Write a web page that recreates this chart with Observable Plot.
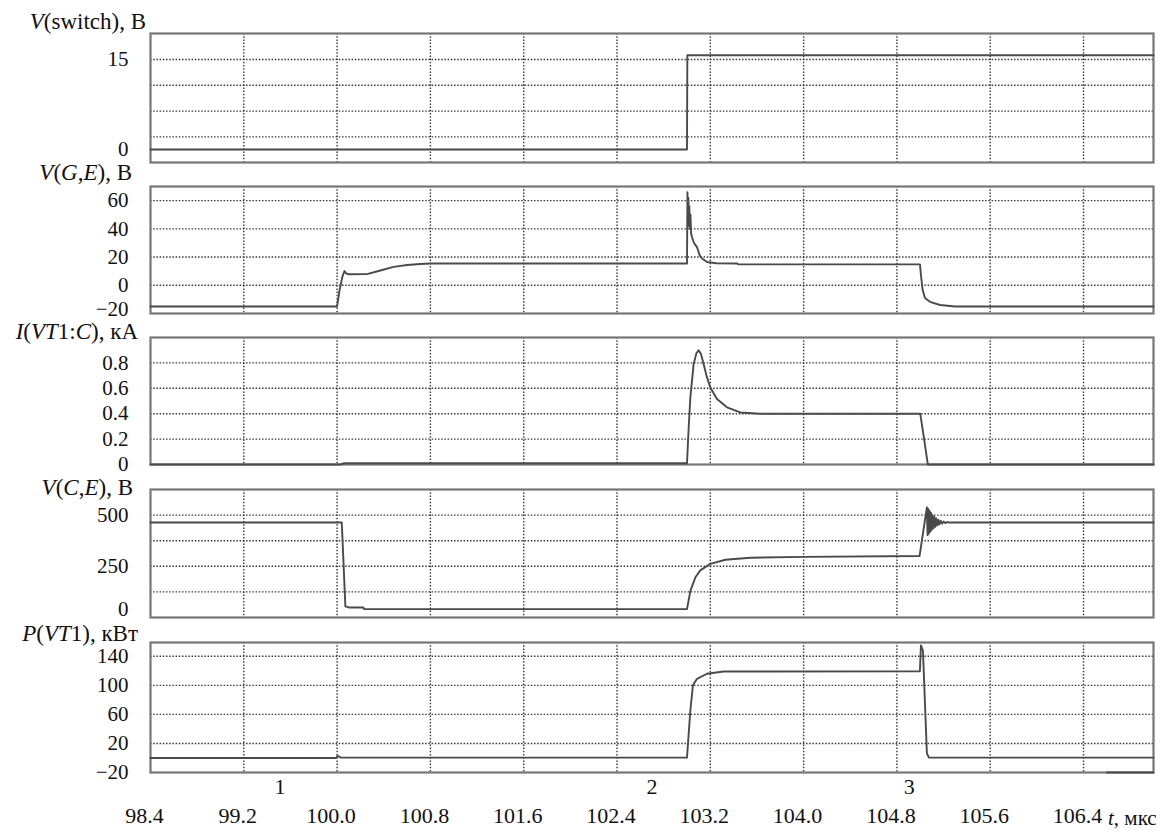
<!DOCTYPE html>
<html><head><meta charset="utf-8">
<script src="https://cdn.jsdelivr.net/npm/d3@7"></script>
<script src="https://cdn.jsdelivr.net/npm/@observablehq/plot@0.6"></script>
<style>
body{margin:0;background:#fff;}
#wrap{position:relative;width:1167px;height:831px;font-family:"Liberation Serif","Times New Roman",serif;overflow:hidden;}
#wrap svg{overflow:visible;display:block;}
#wrap svg text{font-family:"Liberation Serif","Times New Roman",serif;}
.ttl{position:absolute;font-size:23px;line-height:0.8;white-space:nowrap;color:#111;transform:translateY(-50%);font-family:"Liberation Serif",serif;}
</style></head><body><div id="wrap"></div>
<script>
// ---- x axis (t, µs)
const xTicks = [98.4, 99.2, 100.0, 100.8, 101.6, 102.4, 103.2, 104.0, 104.8, 105.6, 106.4];
const xGrid = [99.2, 100.0, 100.8, 101.6, 102.4, 103.2, 104.0, 104.8, 105.6, 106.4];
const xDomain = [98.4, 107.0];

// ---- panel titles
const titles = [
  "<i>V</i>(switch), В",
  "<i>V</i>(<i>G</i>,<i>E</i>), В",
  "<i>I</i>(<i>VT</i>1:<i>C</i>), кА",
  "<i>V</i>(<i>C</i>,<i>E</i>), В",
  "<i>P</i>(<i>VT</i>1), кВт"
];
const xLabel = "<i>t</i>, мкс";

// ---- point markers under the time axis
const markerLabels = ["1", "2", "3"];
const markerTimes = [99.51, 102.70, 104.905];

// ---- y ticks / grid per panel
const ticksSwitch = [0, 15];
const gridSwitch = [15, 10.7, 6.4, 2.1];
const ticksGE = [0, 20, 40, 60];
const ticksGEBottom = [-20];
const gridGE = [0, 20, 40, 60];
const ticksIC = [0, 0.2, 0.4, 0.6, 0.8];
const gridIC = [0.2, 0.4, 0.6, 0.8];
const ticksCE = [250, 500];
const ticksCEBottom = [0];
const gridCE = [125, 250, 375, 500];
const ticksP = [-20, 20, 60, 100, 140];
const gridP = [20, 60, 100, 140];

// ---- series [t (µs), value]
const vSwitch = [[98.4,0],[103.0,0],[103.003,15.7],[107.0,15.7]];

const vGE = [[98.4,-15],[100.0,-15],[100.02,-4],[100.045,6],[100.063,10.1],[100.08,8.3],[100.1,7.8],
  [100.257,7.9],[100.371,10.5],[100.485,13.0],[100.6,14.4],[100.714,15.1],[100.8,15.4],[103.0,15.4],
  [103.004,66],[103.008,45],[103.012,62],[103.016,42],[103.02,56],[103.025,40],[103.03,50],[103.035,37],
  [103.043,34],[103.06,30],[103.086,27],[103.11,21],[103.129,19],[103.172,16.5],[103.25,15.6],[103.43,15.4],
  [103.44,14.8],[104.998,14.8],[105.005,8],[105.02,-3],[105.04,-9],[105.09,-12],[105.17,-14],[105.3,-15],[107.0,-15]];

const iC = [[98.4,0],[100.03,0],[100.06,0.01],[103.0,0.01],[103.015,0.3],[103.029,0.53],[103.057,0.79],
  [103.08,0.875],[103.1,0.90],[103.12,0.87],[103.143,0.79],[103.17,0.69],[103.2,0.606],[103.257,0.515],[103.343,0.45],[103.457,0.41],[103.629,0.4],
  [105.0,0.4],[105.03,0.22],[105.065,0.0],[107.0,0]];

const vCE = [[98.4,464],[100.04,464],[100.071,54],[100.1,49],[100.226,49],[100.23,41],[103.0,41],
  [103.029,130],[103.071,195],[103.114,230],[103.2,262],[103.329,282],[103.543,292],[104.0,296],[104.994,300],
  [105.057,538],[105.063,402],[105.069,530],[105.075,410],[105.081,520],[105.087,420],[105.093,510],
  [105.099,428],[105.106,500],[105.113,436],[105.12,492],[105.128,443],[105.136,485],[105.145,449],
  [105.154,478],[105.164,454],[105.175,473],[105.187,458],[105.2,469],[105.215,461],[105.23,466],
  [105.25,464],[107.0,464]];

const pVT = [[98.4,0],[99.99,0],[100.005,3],[100.03,0.5],[103.0,0.5],[103.029,65.7],[103.051,100],
  [103.086,109],[103.171,116],[103.314,119],[104.997,119.5],[105.006,155],[105.023,148],[105.057,6.4],
  [105.075,0.5],[107.0,0.5]];
const pExtra = [[106.6,-20],[107.0,-20]];

// ---- helpers
const FONT = '"Liberation Serif","Times New Roman",serif';
const fmtY = d => d < 0 ? "\u2212" + Math.abs(d) : String(d);
const gridStyle = {stroke: "#222", strokeDasharray: "1.5,1.7", strokeWidth: 1.4, strokeOpacity: 0.9};
const lineStyle = {x: d => d[0], y: d => d[1], stroke: "#4a4a4a", strokeWidth: 1.9, curve: "linear"};
const axisStyle = {tickSize: 0, tickPadding: 22, fontSize: 21, fontFamily: FONT, fill: "#111", tickFormat: fmtY};

function panel({series, yDomain, yTicks, yTicksBottom = [], bottomDy = 0, yGrid, height, marginTop, marginBottom = 0, extra = []}) {
  return Plot.plot({
    width: 1167, height, marginLeft: 150, marginRight: 14, marginTop, marginBottom,
    x: {domain: xDomain, axis: null},
    y: {domain: yDomain},
    style: {fontFamily: FONT, fontSize: "21px", color: "#111", background: "transparent", overflow: "visible"},
    marks: [
      Plot.ruleX(xGrid, gridStyle),
      Plot.ruleY(yGrid, gridStyle),
      Plot.frame({stroke: "#777", strokeWidth: 2.2}),
      Plot.axisY(yTicks, axisStyle),
      ...(yTicksBottom.length ? [Plot.axisY(yTicksBottom, {...axisStyle, dy: bottomDy})] : []),
      ...series.map(s => Plot.line(s, lineStyle)),
      ...extra
    ]
  });
}

const wrap = document.getElementById("wrap");
wrap.append(panel({series: [vSwitch], yDomain: [-2.17, 19.33], yTicks: ticksSwitch, yGrid: gridSwitch, height: 162, marginTop: 33}));
wrap.append(panel({series: [vGE], yDomain: [-20, 70], yTicks: ticksGE, yTicksBottom: ticksGEBottom, bottomDy: -4, yGrid: gridGE, height: 151, marginTop: 24}));
wrap.append(panel({series: [iC], yDomain: [0, 1.0], yTicks: ticksIC, yGrid: gridIC, height: 151, marginTop: 24}));
wrap.append(panel({series: [vCE], yDomain: [0, 625], yTicks: ticksCE, yTicksBottom: ticksCEBottom, bottomDy: -8, yGrid: gridCE, height: 153, marginTop: 25}));
wrap.append(panel({series: [pVT, pExtra], yDomain: [-20, 159], yTicks: ticksP, yGrid: gridP, height: 214, marginTop: 25, marginBottom: 59,
  extra: [
    Plot.axisX(xTicks, {tickSize: 0, tickPadding: 35, fontSize: 22, fontFamily: FONT, fill: "#111", dx: -6, tickFormat: d3.format(".1f")}),
    Plot.text(markerLabels, {x: (d, i) => markerTimes[i], text: d => d, frameAnchor: "bottom", dy: 21, fontSize: 22, fontFamily: FONT, fill: "#111"})
  ]}));

// titles (HTML, mixed italic)
const titlePos = [[146, 22], [132, 173], [138, 332], [133, 488], [138, 634]];
titles.forEach((t, i) => {
  const d = document.createElement("div");
  d.className = "ttl";
  d.innerHTML = t;
  d.style.right = (1167 - titlePos[i][0]) + "px";
  d.style.top = titlePos[i][1] + "px";
  wrap.append(d);
});
const xl = document.createElement("div");
xl.className = "ttl";
xl.style.fontSize = "21px";
xl.innerHTML = xLabel;
xl.style.left = "1108px";
xl.style.top = "818px";
wrap.append(xl);
</script>
</body></html>
